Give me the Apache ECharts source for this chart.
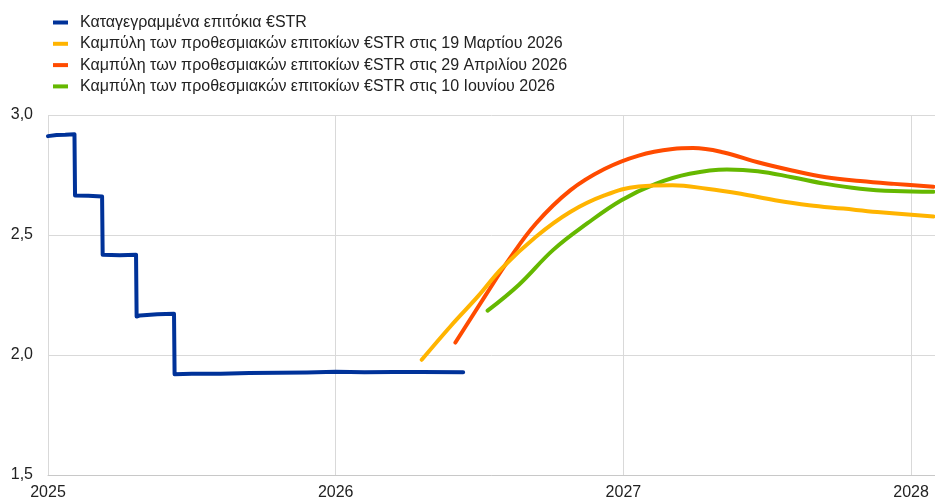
<!DOCTYPE html>
<html>
<head>
<meta charset="utf-8">
<script src="https://cdn.jsdelivr.net/npm/echarts@6/dist/echarts.min.js"></script>
<style>
html,body{margin:0;padding:0;background:#fff;}
#chart{width:935px;height:503px;}
</style>
</head>
<body>
<div id="chart"></div>
<script>
// Series names (legend)
const seriesNames = [
  'Καταγεγραμμένα επιτόκια €STR',
  'Καμπύλη των προθεσμιακών επιτοκίων €STR στις 19 Μαρτίου 2026',
  'Καμπύλη των προθεσμιακών επιτοκίων €STR στις 29 Απριλίου 2026',
  'Καμπύλη των προθεσμιακών επιτοκίων €STR στις 10 Ιουνίου 2026'
];

// Recorded €STR (x in decimal years)
const estrX = [2025.000, 2025.030, 2025.060, 2025.092, 2025.094, 2025.140, 2025.188, 2025.190, 2025.250, 2025.306,
               2025.308, 2025.320, 2025.380, 2025.438, 2025.440, 2025.500, 2025.600, 2025.700, 2025.800, 2025.900,
               2026.000, 2026.100, 2026.200, 2026.300, 2026.443];
const estrY = [2.912, 2.917, 2.918, 2.920, 2.665, 2.664, 2.660, 2.418, 2.416, 2.418,
               2.160, 2.165, 2.170, 2.172, 1.920, 1.922, 1.922, 1.925, 1.926, 1.927,
               1.930, 1.928, 1.929, 1.929, 1.928];

// Forward curve 19 March 2026
const fwdMarX = [2026.299, 2026.400, 2026.495, 2026.578, 2026.696, 2026.815, 2026.934, 2027.053, 2027.171, 2027.290,
                 2027.408, 2027.527, 2027.645, 2027.764, 2027.882, 2028.078];
const fwdMarY = [1.980, 2.121, 2.245, 2.362, 2.493, 2.596, 2.665, 2.702, 2.707, 2.693,
                 2.672, 2.645, 2.624, 2.610, 2.596, 2.577];

// Forward curve 29 April 2026
const fwdAprX = [2026.416, 2026.519, 2026.602, 2026.696, 2026.815, 2026.934, 2027.053, 2027.171, 2027.242, 2027.349,
                 2027.467, 2027.586, 2027.704, 2027.823, 2027.941, 2028.078];
const fwdAprY = [2.052, 2.245, 2.397, 2.548, 2.686, 2.775, 2.831, 2.858, 2.862, 2.844,
                 2.803, 2.769, 2.741, 2.725, 2.713, 2.701];

// Forward curve 10 June 2026
const fwdJunX = [2026.528, 2026.637, 2026.756, 2026.874, 2026.993, 2027.112, 2027.230, 2027.360, 2027.467, 2027.586,
                 2027.704, 2027.823, 2027.941, 2028.078];
const fwdJunY = [2.185, 2.293, 2.438, 2.548, 2.645, 2.713, 2.755, 2.773, 2.766, 2.741,
                 2.713, 2.693, 2.683, 2.680];

const colors = ['#003299', '#FFB400', '#FF4B00', '#65B800'];

const zip = (xs, ys) => xs.map((x, i) => [x, ys[i]]);

const chart = echarts.init(document.getElementById('chart'), null, {renderer: 'canvas'});
const font = 'Arial, "Liberation Sans", sans-serif';

function lineSeries(i, data, smooth) {
  return {
    name: seriesNames[i],
    type: 'line',
    data: data,
    smooth: smooth,
    showSymbol: false,
    symbol: 'none',
    color: colors[i],
    lineStyle: {width: 4, color: colors[i], cap: 'round', join: 'round'},
    emphasis: {disabled: true},
    z: 10 - i
  };
}

chart.setOption({
  animation: false,
  backgroundColor: '#fff',
  textStyle: {fontFamily: font},
  grid: {left: 48, right: 0, top: 115, bottom: 28, containLabel: false},
  legend: {
    orient: 'vertical',
    left: 48,
    top: 7,
    itemWidth: 15,
    itemHeight: 4,
    itemGap: 0.3,
    icon: 'rect',
    textStyle: {fontFamily: font, fontSize: 16, color: '#222', lineHeight: 21, padding: [0, 0, 0, 7]},
    data: seriesNames
  },
  xAxis: {
    type: 'value',
    min: 2025,
    max: 2028.083,
    interval: 1,
    axisLine: {show: true, lineStyle: {color: '#c8c8c8', width: 1}},
    axisTick: {show: false},
    splitLine: {show: true, showMaxLine: false, lineStyle: {color: '#d9d9d9', width: 1}},
    axisLabel: {
      fontFamily: font, fontSize: 16, color: '#222', margin: 10,
      showMaxLabel: false,
      formatter: v => Math.abs(v - Math.round(v)) < 1e-6 ? String(Math.round(v)) : ''
    }
  },
  yAxis: {
    type: 'value',
    min: 1.5,
    max: 3.0,
    interval: 0.5,
    axisLine: {show: false},
    axisTick: {show: false},
    splitLine: {show: true, lineStyle: {color: '#d9d9d9', width: 1}},
    axisLabel: {
      fontFamily: font, fontSize: 16, color: '#222', margin: 15,
      formatter: v => v.toFixed(1).replace('.', ',')
    }
  },
  series: [
    lineSeries(0, zip(estrX, estrY), false),
    lineSeries(1, zip(fwdMarX, fwdMarY), 0.4),
    lineSeries(2, zip(fwdAprX, fwdAprY), 0.4),
    lineSeries(3, zip(fwdJunX, fwdJunY), 0.4)
  ]
});
</script>
</body>
</html>
